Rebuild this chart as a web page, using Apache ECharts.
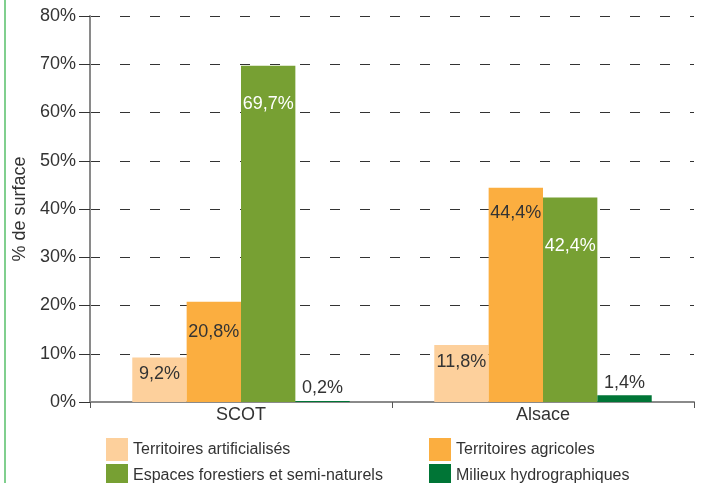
<!DOCTYPE html>
<html><head><meta charset="utf-8">
<script src="https://cdn.jsdelivr.net/npm/echarts@6/dist/echarts.min.js"></script>
<style>html,body{margin:0;padding:0;background:#fff}#c{width:702px;height:483px}</style>
</head><body><div id="c"></div>
<script>
const categories = ['SCOT', 'Alsace'];
const seriesNames = ['Territoires artificialisés', 'Territoires agricoles', 'Espaces forestiers et semi-naturels', 'Milieux hydrographiques'];
const artificialises = [9.2, 11.8];
const agricoles = [20.8, 44.4];
const forestiers = [69.7, 42.4];
const hydrographiques = [0.2, 1.4];
const yTicks = [0, 10, 20, 30, 40, 50, 60, 70, 80];

const colors = ['#FDD09C', '#FBAE40', '#77A033', '#007536'];
const labelColors = ['#333', '#333', '#fff', '#333'];
const labelPos = ['insideTop', 'insideTop', 'insideTop', 'top'];
const labelDist = [[7, 8], [21, 16], [29, 40], [4, 3]];
const values = [artificialises, agricoles, forestiers, hydrographiques];
const fmt = v => v.toFixed(1).replace('.', ',') + '%';
const FONT = '"Liberation Sans", Arial, sans-serif';

const chart = echarts.init(document.getElementById('c'));
chart.setOption({
  animation: false,
  textStyle: { fontFamily: FONT },
  grid: { left: 90, right: 8, top: 16, bottom: 81, containLabel: false, outerBoundsMode: 'none' },
  graphic: [{ type: 'line', shape: { x1: 5, y1: 0, x2: 5, y2: 483 }, style: { stroke: '#80CF8E', lineWidth: 2 } }],
  legend: [
    { data: [seriesNames[0], seriesNames[2]], orient: 'vertical', left: 106, top: 438, height: 80, padding: 0, itemWidth: 22, itemHeight: 23, itemGap: 3,
      icon: 'rect', textStyle: { fontSize: 16, color: '#333', fontFamily: FONT } },
    { data: [seriesNames[1], seriesNames[3]], orient: 'vertical', left: 429, top: 438, height: 80, padding: 0, itemWidth: 22, itemHeight: 23, itemGap: 3,
      icon: 'rect', textStyle: { fontSize: 16, color: '#333', fontFamily: FONT } }
  ],
  xAxis: {
    type: 'category', data: categories,
    axisLine: { lineStyle: { color: '#8a8a8a', width: 2 } },
    axisTick: { show: true, length: 6, lineStyle: { color: '#555' } },
    axisLabel: { fontSize: 18, color: '#333', margin: 4, fontFamily: FONT }
  },
  yAxis: {
    type: 'value', min: 0, max: 80, interval: 10,
    name: '% de surface', nameLocation: 'middle', nameGap: 59, nameRotate: 90,
    nameTextStyle: { fontSize: 18, color: '#333', fontFamily: FONT },
    axisLine: { show: true, lineStyle: { color: '#8a8a8a', width: 2 } },
    axisTick: { show: true, length: 11, lineStyle: { color: '#333' } },
    axisLabel: { fontSize: 18, color: '#333', margin: 14, fontFamily: FONT,
      formatter: v => yTicks.includes(v) ? v + '%' : '' },
    splitLine: { show: true, lineStyle: { color: '#333', type: [10, 20], width: 1 } }
  },
  series: seriesNames.map((name, i) => ({
    name, type: 'bar', barGap: '0%', barCategoryGap: '28%',
    itemStyle: { color: colors[i] },
    data: values[i].map((v, j) => ({
      value: v,
      label: { show: true, position: labelPos[i], distance: labelDist[i][j], color: labelColors[i],
        fontSize: 18, fontFamily: FONT, formatter: p => fmt(p.value) }
    }))
  }))
});
</script></body></html>
